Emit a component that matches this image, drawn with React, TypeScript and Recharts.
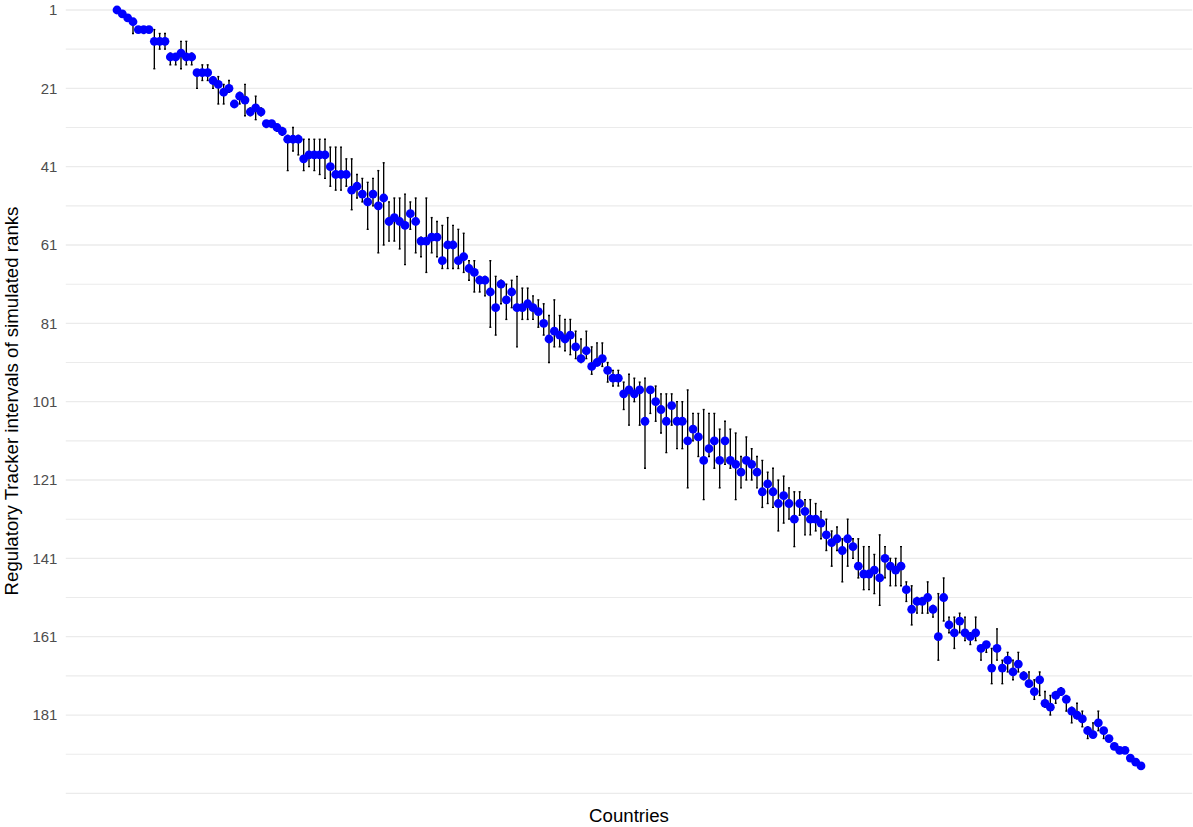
import React from 'react';
import { ScatterChart, Scatter, XAxis, YAxis, ReferenceLine, ErrorBar } from 'recharts';

// Regulatory Tracker rank of each country (point)
const rankValues = [
  1, 2, 3, 4, 6, 6, 6, 9, 9, 9,
  13, 13, 12, 13, 13, 17, 17, 17, 19, 20,
  22, 21, 25, 23, 24, 27, 26, 27, 30, 30,
  31, 32, 34, 34, 34, 39, 38, 38, 38, 38,
  41, 43, 43, 43, 47, 46, 48, 50, 48, 51,
  49, 55, 54, 55, 56, 53, 55, 60, 60, 59,
  59, 65, 61, 61, 65, 64, 67, 68, 70, 70,
  73, 77, 71, 75, 73, 77, 77, 76, 77, 78,
  81, 85, 83, 84, 85, 84, 87, 90, 88, 92,
  91, 90, 93, 95, 95, 99, 98, 99, 98, 106,
  98, 101, 103, 106, 102, 106, 106, 111, 108, 110,
  116, 113, 111, 116, 111, 116, 117, 119, 116, 117,
  119, 124, 122, 124, 127, 125, 127, 131, 127, 129,
  131, 131, 132, 135, 137, 136, 139, 136, 138, 143,
  145, 145, 144, 146, 141, 143, 144, 143, 149, 154,
  152, 152, 151, 154, 161, 151, 158, 160, 157, 160,
  161, 160, 164, 163, 169, 164, 169, 167, 170, 168,
  171, 173, 175, 172, 178, 179, 176, 175, 177, 180,
  181, 182, 185, 186, 183, 185, 187, 189, 190, 190,
  192, 193, 194,
];

// Lower end (best rank) of the simulated-rank interval
const lowerRanks = [
  1, 2, 3, 4, 6, 6, 6, 6, 7, 7,
  12, 13, 9, 9, 12, 17, 15, 15, 18, 18,
  20, 19, 25, 22, 20, 26, 23, 26, 30, 30,
  31, 31, 33, 31, 33, 34, 34, 34, 34, 34,
  36, 36, 36, 39, 39, 43, 44, 45, 44, 42,
  40, 50, 49, 49, 48, 50, 49, 59, 49, 54,
  55, 56, 54, 56, 57, 58, 65, 65, 69, 69,
  65, 69, 70, 71, 70, 69, 72, 72, 74, 75,
  76, 79, 75, 79, 80, 80, 83, 85, 83, 87,
  86, 86, 91, 93, 93, 96, 94, 95, 96, 95,
  98, 97, 99, 99, 99, 101, 101, 98, 104, 104,
  103, 104, 104, 108, 106, 108, 109, 115, 110, 113,
  115, 116, 119, 118, 121, 120, 123, 124, 124, 126,
  126, 127, 129, 131, 134, 133, 136, 131, 136, 136,
  138, 138, 140, 135, 138, 141, 141, 138, 147, 148,
  151, 151, 147, 153, 150, 146, 156, 156, 155, 156,
  160, 156, 164, 163, 164, 159, 167, 165, 167, 165,
  170, 170, 172, 170, 175, 176, 175, 174, 176, 179,
  178, 180, 184, 183, 180, 185, 187, 189, 190, 190,
  192, 193, 194,
];

// Upper end (worst rank) of the simulated-rank interval
const upperRanks = [
  1, 2, 3, 7, 6, 7, 6, 16, 11, 11,
  15, 15, 16, 15, 15, 21, 19, 19, 21, 25,
  25, 22, 25, 25, 28, 28, 29, 28, 31, 31,
  32, 33, 42, 37, 38, 42, 41, 42, 43, 44,
  46, 47, 47, 46, 52, 49, 50, 57, 51, 63,
  61, 60, 60, 62, 66, 57, 63, 64, 68, 63,
  64, 67, 67, 67, 67, 68, 70, 73, 73, 74,
  82, 84, 76, 80, 77, 87, 80, 80, 80, 82,
  84, 91, 87, 87, 88, 89, 90, 91, 90, 94,
  91, 92, 96, 97, 97, 103, 107, 101, 107, 118,
  104, 106, 109, 114, 107, 113, 113, 123, 111, 115,
  126, 115, 118, 123, 117, 118, 126, 123, 121, 121,
  123, 128, 127, 128, 134, 132, 131, 138, 130, 135,
  135, 134, 136, 139, 143, 139, 147, 143, 141, 146,
  149, 149, 150, 153, 146, 148, 148, 148, 152, 158,
  155, 155, 155, 156, 167, 157, 160, 164, 160, 162,
  163, 162, 167, 165, 173, 167, 173, 170, 172, 170,
  172, 173, 177, 176, 179, 181, 178, 176, 180, 183,
  182, 184, 187, 186, 185, 187, 187, 189, 190, 190,
  192, 193, 194,
];

const countryPositions = rankValues.map((_, i) => i + 1);

const yGridTicks = [1, 11, 21, 31, 41, 51, 61, 71, 81, 91, 101, 111, 121, 131, 141, 151, 161, 171, 181, 191, 201];
const yLabelTicks = [1, 21, 41, 61, 81, 101, 121, 141, 161, 181];

const data = countryPositions.map((pos, i) => ({
  pos,
  rank: rankValues[i],
  err: [rankValues[i] - lowerRanks[i], upperRanks[i] - rankValues[i]],
}));

const FONT = '"Liberation Sans", Arial, Helvetica, sans-serif';

const Dot = (props: any) => {
  const { cx, cy } = props;
  if (cx == null || cy == null) return null;
  return <circle cx={cx} cy={cy} r={4.4} fill="#0000FF" stroke="none" />;
};

export default function App() {
  return (
    <div style={{ position: 'absolute', left: 0, top: 0, width: 1193, height: 827, background: '#FFFFFF' }}>
      <ScatterChart
        width={1193}
        height={827}
        margin={{ top: 6.08, right: 0.8, bottom: 25.8, left: 0 }}
      >
        <XAxis type="number" dataKey="pos" domain={[-8.6, 202.6]} hide />
        <YAxis
          type="number"
          dataKey="rank"
          reversed
          domain={[0, 203]}
          ticks={yGridTicks}
          interval={0}
          width={65.8}
          axisLine={false}
          tickLine={false}
          tickSize={0}
          tickMargin={8.5}
          tickFormatter={(v: number) => (yLabelTicks.includes(v) ? String(v) : '')}
          tick={{ fill: '#4D4D4D', fontSize: 14.93, fontFamily: FONT }}
        />
        {yGridTicks.map((v) => (
          <ReferenceLine
            key={v}
            y={v}
            stroke="#EBEBEB"
            strokeWidth={yLabelTicks.includes(v) ? 1.3 : 1.1}
            ifOverflow="visible"
          />
        ))}
        <Scatter data={data} shape={<Dot />} isAnimationActive={false}>
          <ErrorBar dataKey="err" direction="y" width={1} stroke="#000000" strokeWidth={1.35} />
        </Scatter>
      </ScatterChart>
      <svg
        width={1193}
        height={827}
        style={{ position: 'absolute', left: 0, top: 0, pointerEvents: 'none' }}
      >
        <text
          x={629}
          y={822}
          textAnchor="middle"
          fontFamily={FONT}
          fontSize={18.67}
          fill="#000000"
        >
          Countries
        </text>
        <text
          x={18}
          y={401}
          transform="rotate(-90, 18, 401)"
          textAnchor="middle"
          fontFamily={FONT}
          fontSize={18.67}
          fill="#000000"
        >
          Regulatory Tracker intervals of simulated ranks
        </text>
      </svg>
    </div>
  );
}
